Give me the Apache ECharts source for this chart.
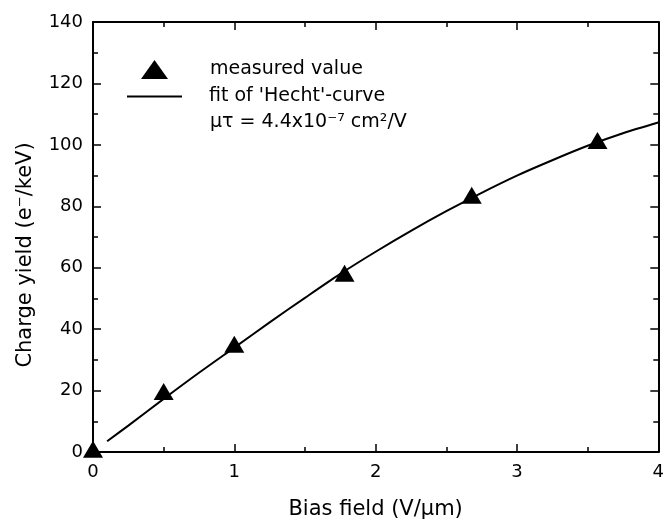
<!DOCTYPE html>
<html>
<head>
<meta charset="utf-8">
<script src="https://cdn.jsdelivr.net/npm/echarts@6/dist/echarts.min.js"></script>
<style>html,body{margin:0;padding:0;background:#fff}#c{width:667px;height:525px}</style>
</head>
<body>
<div id="c"></div>
<script>
// Measured points
var measuredX = [0, 0.5, 1, 1.78, 2.68, 3.57];
var measuredY = [0, 18.8, 34.2, 57.3, 82.7, 100.5];
// Fit of Hecht curve
var fitX = [0.1, 0.25, 0.5, 0.75, 1, 1.25, 1.5, 1.75, 2, 2.25, 2.5, 2.75, 3, 3.25, 3.5, 3.75, 4];
var fitY = [3.5, 8.6, 17.3, 25.8, 34, 42.2, 50.2, 58, 65.2, 72, 78.4, 84.4, 90, 95, 99.7, 103.8, 107.3];
// Axis ticks
var xTicks = {min: 0, max: 4, interval: 1};
var yTicks = {min: 0, max: 140, interval: 20};

var FONT = 'DejaVu Sans';
var chart = echarts.init(document.getElementById('c'), null, {renderer: 'canvas'});

function mkAxis(t, pos, showLabel, extra) {
  return Object.assign({
    type: 'value', position: pos, min: t.min, max: t.max, interval: t.interval,
    axisLine: {show: true, onZero: false, lineStyle: {color: '#000', width: 2}},
    axisTick: {show: true, inside: true, length: 8, lineStyle: {color: '#000', width: 1.5}},
    minorTick: {show: true, splitNumber: 2, length: 5, lineStyle: {color: '#000', width: 1.5}},
    splitLine: {show: false},
    axisLabel: {show: showLabel, color: '#000', fontFamily: FONT, fontSize: 18}
  }, extra || {});
}

var measured = measuredX.map(function (x, i) { return [x, measuredY[i]]; });
var fit = fitX.map(function (x, i) { return [x, fitY[i]]; });

chart.setOption({
  animation: false,
  backgroundColor: '#fff',
  grid: {left: 93, right: 4, top: 22, bottom: 69, containLabel: false},
  xAxis: [
    mkAxis(xTicks, 'bottom', true, {
      name: 'Bias field (V/µm)', nameLocation: 'middle', nameGap: 47,
      nameTextStyle: {color: '#000', fontFamily: FONT, fontSize: 21},
      axisLabel: {show: true, color: '#000', fontFamily: FONT, fontSize: 18, margin: 11}
    }),
    mkAxis(xTicks, 'top', false)
  ],
  yAxis: [
    mkAxis(yTicks, 'left', true, {
      name: 'Charge yield (e⁻/keV)', nameLocation: 'middle', nameGap: 57,
      nameTextStyle: {color: '#000', fontFamily: FONT, fontSize: 21, padding: [0, 36, 0, 0]},
      axisLabel: {show: true, color: '#000', fontFamily: FONT, fontSize: 18, margin: 10}
    }),
    mkAxis(yTicks, 'right', false)
  ],
  legend: [
    {
      data: [{name: 'measured value', icon: 'path://M50,0L100,70L0,70Z', itemStyle: {color: '#000', opacity: 1}}],
      left: 136, top: 55, orient: 'vertical',
      itemWidth: 27, itemHeight: 19, symbolKeepAspect: false, selectedMode: false,
      textStyle: {color: '#000', fontFamily: FONT, fontSize: 19, padding: [0, 0, 0, 37]}
    },
    {
      data: [{name: "fit of 'Hecht'-curve", icon: 'path://M0,0L100,0L100,4L0,4Z', itemStyle: {color: '#000', opacity: 1}}],
      left: 122, top: 82, orient: 'vertical',
      itemWidth: 55, itemHeight: 2, symbolKeepAspect: false, selectedMode: false,
      textStyle: {color: '#000', fontFamily: FONT, fontSize: 19, padding: [0, 0, 0, 22]}
    }
  ],
  graphic: [
    {type: 'text', left: 210, top: 113,
     style: {text: 'μτ = 4.4x10⁻⁷ cm²/V', fontFamily: FONT, fontSize: 19, fill: '#000'}}
  ],
  series: [
    {
      name: "fit of 'Hecht'-curve", type: 'line', data: fit, smooth: 0.3,
      symbol: 'none', showSymbol: false,
      lineStyle: {color: '#000', width: 2}, itemStyle: {color: '#000'}, z: 2
    },
    {
      name: 'measured value', type: 'scatter', data: measured,
      symbol: 'triangle', symbolSize: [20, 17], symbolOffset: [0, -2.8],
      itemStyle: {color: '#000', opacity: 1}, clip: false, z: 3
    }
  ]
});
</script>
</body>
</html>
